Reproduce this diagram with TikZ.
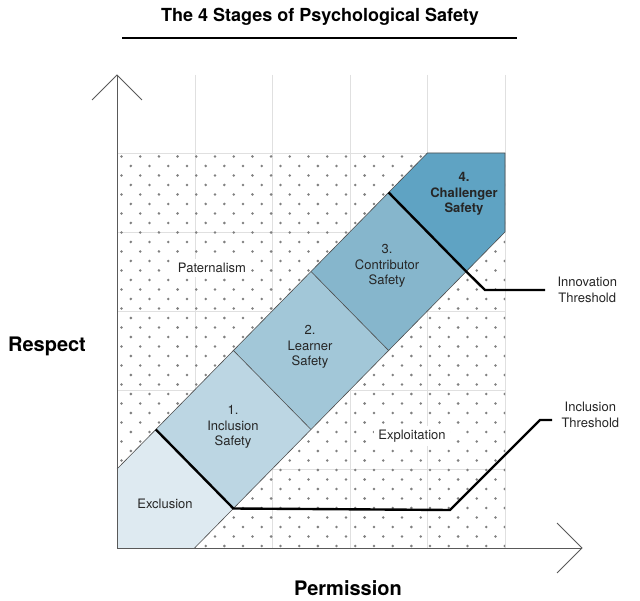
\documentclass[tikz,border=0pt]{standalone}
\usepackage{fontspec}
\setmainfont{TeX Gyre Heros}
\begin{document}
\begin{tikzpicture}[x=1pt,y=-1pt,
  lbl/.style={font=\fontsize{13}{15.5}\selectfont,align=center,text=black!85},
  thr/.style={line width=2.4pt,black},
  div/.style={draw=black!70,line width=0.6pt},
  gridl/.style={draw=black!12,line width=0.5pt},
  axis/.style={draw=black!65,line width=0.9pt}]
\useasboundingbox (0,0) rectangle (640,601);
\fill[white] (0,0) rectangle (640,601);
% grid
\foreach \x in {195,272,350,427,505} \draw[gridl] (\x,75) -- (\x,548);
\foreach \y in {153,232,311,390,469} \draw[gridl] (117,\y) -- (505,\y);
% dots
\begin{scope}
\clip (117,153) rectangle (505,548);
\foreach \i in {0,...,21}{
  \foreach \j in {0,...,21}{
    \fill[black!50] ({121.5+\i*18.7},{156.5+\j*19}) circle (1.4);
    \fill[black!50] ({121.5+9.35+\i*18.7},{156.5+9.5+\j*19}) circle (1.4);
  }}
\end{scope}
% band regions
\coordinate (p00) at (117,548);
\coordinate (p10) at (194.6,548);
\coordinate (p01) at (117,469);
\coordinate (a1) at (155.8,429.5); \coordinate (b1) at (233.4,508.5);
\coordinate (a2) at (233.4,350.5); \coordinate (b2) at (311,429.5);
\coordinate (a3) at (311,271.5);   \coordinate (b3) at (388.6,350.5);
\coordinate (a4) at (388.6,192.5); \coordinate (b4) at (466.2,271.5);
\coordinate (t1) at (427.4,153); \coordinate (t2) at (505,153); \coordinate (t3) at (505,232);
\fill[fill={rgb,255:red,222;green,234;blue,241}] (p00) -- (p10) -- (b1) -- (a1) -- (p01) -- cycle;
\fill[fill={rgb,255:red,188;green,214;blue,227}] (a1) -- (b1) -- (b2) -- (a2) -- cycle;
\fill[fill={rgb,255:red,162;green,199;blue,216}] (a2) -- (b2) -- (b3) -- (a3) -- cycle;
\fill[fill={rgb,255:red,134;green,182;blue,204}] (a3) -- (b3) -- (b4) -- (a4) -- cycle;
\fill[fill={rgb,255:red,95;green,163;blue,195}] (a4) -- (b4) -- (t3) -- (t2) -- (t1) -- cycle;
\draw[div] (p01) -- (t1) -- (t2) -- (t3) -- (p10);
\draw[div] (a2) -- (b2); \draw[div] (a3) -- (b3);
% thresholds
\coordinate (i1) at (450,510); \coordinate (i2) at (540,420); \coordinate (i3) at (552,420);
\coordinate (n1) at (485,290); \coordinate (n2) at (545,290);
\draw[thr] (a1) -- (b1) -- (i1) -- (i2) -- (i3);
\draw[thr] (a4) -- (b4) -- (n1) -- (n2);
% axes
\draw[axis] (117,548) -- (117,75);
\draw[axis] (92,100) -- (117,75) -- (142,100);
\draw[axis] (117,548) -- (582,548);
\draw[axis] (557,523) -- (582,548) -- (557,573);
% title
\node[font=\fontsize{18}{21}\selectfont\bfseries] (title) at (320,17) {The 4 Stages of Psychological Safety};
\draw[line width=1.4pt] (122,38) -- (517,38);
% labels
\node[lbl,fill=white,inner sep=4pt] (pat) at (212,268) {Paternalism};
\node[lbl,fill=white,inner sep=4pt] (exp) at (412,436) {Exploitation};
\node[lbl] (exc) at (165,504) {Exclusion};
\node[lbl] (s1) at (233,427) {1.\\Inclusion\\Safety};
\node[lbl] (s2) at (310,347) {2.\\Learner\\Safety};
\node[lbl] (s3) at (387,266) {3.\\Contributor\\Safety};
\node[lbl,font=\fontsize{13}{15.5}\selectfont\bfseries] (s4) at (464,194) {4.\\Challenger\\Safety};
\node[lbl,anchor=west] (inn) at (554,290) {Innovation\\Threshold};
\node[lbl,anchor=west] (inc) at (558,415) {Inclusion\\Threshold};
\node[font=\fontsize{20}{23}\selectfont\bfseries] (resp) at (47,346) {Respect};
\node[font=\fontsize{20}{23}\selectfont\bfseries] (perm) at (348,588) {Permission};
\end{tikzpicture}
\end{document}
